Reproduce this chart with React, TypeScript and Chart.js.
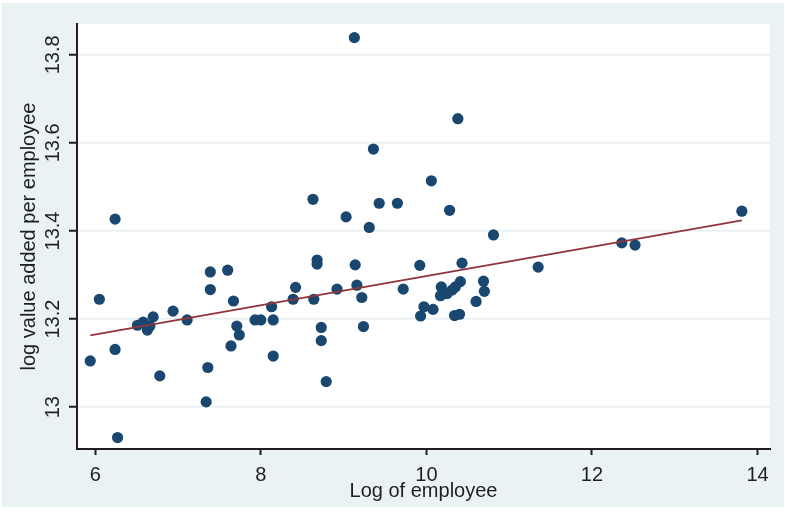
import React, { useEffect, useRef } from "react";
import { Chart, registerables } from "chart.js";

Chart.register(...registerables);

// ---- data ----
const logEmployee = [
  5.94, 6.05, 6.24, 6.24, 6.27, 6.51, 6.58, 6.63, 6.66, 6.70,
  6.78, 6.94, 7.11, 7.36, 7.34, 7.39, 7.39, 7.60, 7.67, 7.71,
  7.74, 7.64, 7.93, 8.00, 8.15, 8.15, 8.13, 8.39, 8.42, 8.63,
  8.68, 8.68, 8.64, 8.73, 8.73, 8.79, 8.92, 9.03, 9.14, 9.16,
  9.22, 9.24, 9.31, 9.13, 10.38, 9.36, 10.06, 9.43, 9.65, 10.28,
  10.81, 9.72, 9.92, 10.43, 10.18, 10.17, 10.25, 10.31, 10.35, 10.41,
  9.97, 9.93, 10.08, 10.34, 10.40, 10.69, 10.70, 10.60, 11.35, 12.36,
  12.52, 13.81,
];
const logValueAdded = [
  13.105, 13.245, 13.427, 13.131, 12.931, 13.186, 13.193, 13.175, 13.184, 13.205,
  13.071, 13.218, 13.198, 13.090, 13.012, 13.307, 13.267, 13.311, 13.241, 13.184,
  13.164, 13.139, 13.198, 13.198, 13.198, 13.116, 13.228, 13.245, 13.272, 13.472,
  13.334, 13.325, 13.245, 13.181, 13.151, 13.058, 13.268, 13.432, 13.323, 13.277,
  13.249, 13.183, 13.408, 13.839, 13.655, 13.586, 13.514, 13.463, 13.463, 13.447,
  13.391, 13.268, 13.322, 13.327, 13.273, 13.253, 13.258, 13.266, 13.273, 13.285,
  13.228, 13.207, 13.222, 13.208, 13.211, 13.286, 13.263, 13.240, 13.318, 13.373,
  13.368, 13.445,
];
const fitX = [5.94, 13.81];
const fitY = [13.163, 13.424];
const xTicks = [6, 8, 10, 12, 14];
const yTicks = [13, 13.2, 13.4, 13.6, 13.8];
const xRange = [5.78, 14.15];
const yRange = [12.905, 13.87];
const xTitle = "Log of employee";
const yTitle = "log value added per employee";

const FONT = "'Liberation Sans', Arial, sans-serif";
const NAVY = "#1a476f";
const MAROON = "#90353b";
const REGION = "#eaf2f3";
const GRID = "#e6eef1";
const INK = "#1f1f1f";

const bgPlugin = {
  id: "bg",
  beforeDraw(chart: any) {
    const { ctx, width, height, chartArea } = chart;
    ctx.save();
    ctx.fillStyle = "#ffffff";
    ctx.fillRect(0, 0, width, height);
    ctx.fillStyle = REGION;
    ctx.fillRect(2, 3, width - 3, height - 8);
    ctx.fillStyle = "#ffffff";
    ctx.fillRect(
      chartArea.left,
      chartArea.top,
      chartArea.right - chartArea.left,
      chartArea.bottom - chartArea.top
    );
    ctx.restore();
  },
};

export default function App() {
  const ref = useRef<HTMLCanvasElement | null>(null);

  useEffect(() => {
    document.body.style.margin = "0";
    const canvas = ref.current!;
    const points = logEmployee.map((x, i) => ({ x, y: logValueAdded[i] }));
    const fit = fitX.map((x, i) => ({ x, y: fitY[i] }));
    const chart = new Chart(canvas, {
      type: "scatter",
      data: {
        datasets: [
          {
            type: "line",
            data: fit,
            borderColor: MAROON,
            borderWidth: 1.8,
            pointRadius: 0,
            showLine: true,
            fill: false,
            order: 0,
          } as any,
          {
            data: points,
            backgroundColor: NAVY,
            borderColor: NAVY,
            borderWidth: 0,
            pointRadius: 5.6,
            order: 1,
          },
        ],
      },
      options: {
        animation: false,
        responsive: false,
        devicePixelRatio: 1,
        layout: { padding: { top: 24, right: 15, left: 0, bottom: 0 } },
        plugins: { legend: { display: false }, tooltip: { enabled: false } },
        scales: {
          x: {
            type: "linear",
            position: "bottom",
            min: xRange[0],
            max: xRange[1],
            bounds: "data",
            afterBuildTicks: (s: any) => {
              s.ticks = xTicks.map((v) => ({ value: v }));
            },
            afterFit: (s: any) => {
              s.height = 63;
            },
            ticks: {
              font: { family: FONT, size: 20 },
              color: INK,
              padding: 8,
              maxRotation: 0,
              minRotation: 0,
              autoSkip: false,
              callback: (v: any) => String(v),
            },
            grid: {
              display: true,
              drawOnChartArea: false,
              drawTicks: true,
              tickLength: 6,
              tickColor: INK,
              tickWidth: 2,
            },
            border: { display: true, color: INK, width: 2 },
            title: {
              display: true,
              text: xTitle,
              font: { family: FONT, size: 20 },
              color: INK,
              padding: { top: 0, bottom: 9 },
            },
          },
          y: {
            type: "linear",
            position: "left",
            min: yRange[0],
            max: yRange[1],
            bounds: "data",
            afterBuildTicks: (s: any) => {
              s.ticks = yTicks.map((v) => ({ value: v }));
            },
            afterFit: (s: any) => {
              s.width = 77;
            },
            ticks: {
              font: { family: FONT, size: 20 },
              color: INK,
              padding: -4,
              minRotation: 90,
              maxRotation: 90,
              crossAlign: "center",
              autoSkip: false,
              callback: (v: any) => String(v),
            },
            grid: {
              color: GRID,
              lineWidth: 1.5,
              tickColor: INK,
              tickLength: 8,
              tickWidth: 2,
            },
            border: { display: true, color: INK, width: 2 },
            title: {
              display: true,
              text: yTitle,
              font: { family: FONT, size: 20 },
              color: INK,
              padding: { top: 17, bottom: 0 },
            },
          },
        },
      },
      plugins: [bgPlugin],
    } as any);
    return () => chart.destroy();
  }, []);

  return (
    <canvas
      ref={ref}
      width={785}
      height={512}
      style={{ display: "block", width: 785, height: 512 }}
    />
  );
}
